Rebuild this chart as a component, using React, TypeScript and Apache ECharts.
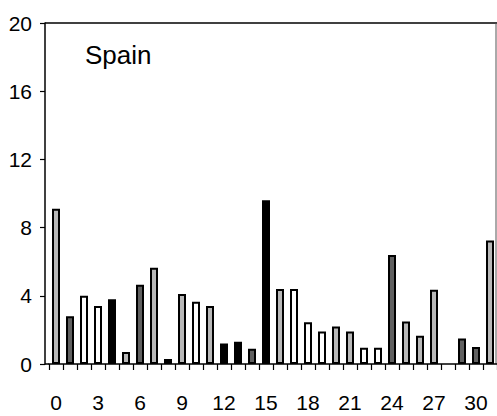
import React, { useEffect, useRef } from "react";
import * as echarts from "echarts";

const categories: string[] = Array.from({ length: 32 }, (_, i) => String(i));
const values: number[] = [
  9.1, 2.8, 4.0, 3.4, 3.8, 0.7, 4.65, 5.65, 0.3, 4.1, 3.65, 3.4, 1.2, 1.3, 0.9, 9.6,
  4.4, 4.4, 2.45, 1.9, 2.2, 1.9, 0.95, 0.95, 6.4, 2.5, 1.65, 4.35, 0, 1.5, 1.0, 7.25,
];
// L = light dotted, D = dark dotted, W = white, B = black
const fillTypes: string[] = [
  "L", "D", "W", "W", "B", "L", "D", "L", "B", "L", "W", "L", "B", "B", "D", "B",
  "L", "W", "W", "W", "L", "L", "W", "W", "D", "L", "L", "L", "W", "D", "D", "L",
];
const yTicks: number[] = [0, 4, 8, 12, 16, 20];
const title = "Spain";

const fillColor: Record<string, string> = {
  L: "#b8b8b8",
  D: "#606060",
  W: "#ffffff",
  B: "#000000",
};

const FONT = "Liberation Sans, Arial, Helvetica, sans-serif";

export default function App() {
  const ref = useRef<HTMLDivElement>(null);
  useEffect(() => {
    if (!ref.current) return;
    const chart = echarts.init(ref.current, undefined, { renderer: "svg" });
    const left = 49;
    const top = 23;
    const bottomY = 364;
    chart.setOption({
      animation: false,
      backgroundColor: "#ffffff",
      title: {
        text: title,
        left: 80,
        top: 37,
        textStyle: { fontSize: 26, fontWeight: "normal", color: "#000", fontFamily: FONT },
      },
      grid: { left: left, right: -3, top: top, bottom: 416 - bottomY, containLabel: false },
      xAxis: {
        type: "category",
        data: categories,
        boundaryGap: true,
        axisLine: { show: true, lineStyle: { color: "#000", width: 1.5 } },
        axisTick: { show: true, interval: 0, length: 6, lineStyle: { color: "#000", width: 1.2 } },
        axisLabel: {
          interval: 2,
          margin: 28,
          fontSize: 21,
          color: "#000",
          fontFamily: FONT,
        },
      },
      yAxis: {
        type: "value",
        min: yTicks[0],
        max: yTicks[yTicks.length - 1],
        interval: 4,
        offset: 4,
        axisLine: { show: true, lineStyle: { color: "#000", width: 1.5 } },
        axisTick: { show: true, length: 5, lineStyle: { color: "#000", width: 1.2 } },
        splitLine: { show: false },
        axisLabel: { margin: 13, fontSize: 21, color: "#000", fontFamily: FONT },
      },
      graphic: [
        { type: "line", shape: { x1: 45, y1: top, x2: 497, y2: top }, style: { stroke: "#000", lineWidth: 1.5 } },
        { type: "line", shape: { x1: 496, y1: top, x2: 496, y2: bottomY }, style: { stroke: "#555", lineWidth: 1 } },
        { type: "line", shape: { x1: 45, y1: bottomY, x2: left, y2: bottomY }, style: { stroke: "#000", lineWidth: 1.5 } },
      ],
      series: [
        {
          type: "bar",
          barWidth: 8,
          data: values.map((v, i) => ({
            value: v,
            itemStyle: {
              color: fillColor[fillTypes[i]],
              borderColor: "#000",
              borderWidth: v > 0 ? 2 : 0,
            },
          })),
        },
      ],
    });
    return () => chart.dispose();
  }, []);
  return (
    <div
      ref={ref}
      style={{ position: "fixed", left: 0, top: 0, width: 497, height: 416 }}
    />
  );
}
